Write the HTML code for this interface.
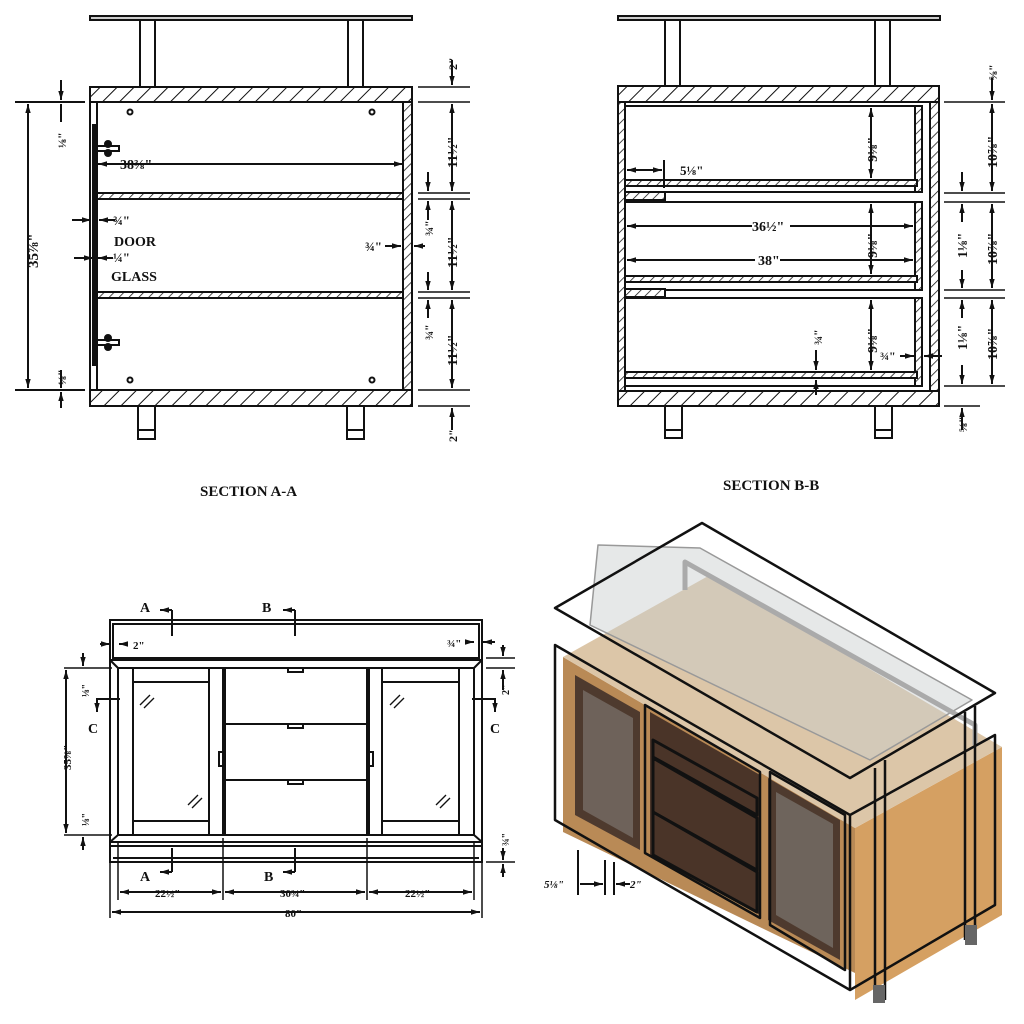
<!DOCTYPE html>
<html><head><meta charset="utf-8"><style>
html,body{margin:0;padding:0;background:#fff;}
svg{display:block}
text{font-family:"Liberation Serif",serif;font-weight:bold;fill:#111}
</style></head><body>
<svg width="1024" height="1024" viewBox="0 0 1024 1024" xmlns="http://www.w3.org/2000/svg">
<defs>
<pattern id="h" width="12" height="12" patternUnits="userSpaceOnUse" patternTransform="rotate(45)"><rect width="12" height="12" fill="#fff"/><line x1="0" y1="0" x2="0" y2="12" stroke="#111" stroke-width="2"/></pattern>
<pattern id="hs" width="7" height="7" patternUnits="userSpaceOnUse" patternTransform="rotate(45)"><rect width="7" height="7" fill="#fff"/><line x1="0" y1="0" x2="0" y2="7" stroke="#111" stroke-width="1.5"/></pattern>
<marker id="a" viewBox="0 0 10 10" refX="10" refY="5" markerUnits="userSpaceOnUse" markerWidth="9" markerHeight="9" orient="auto-start-reverse"><path d="M0,2 L10,5 L0,8 z" fill="#111"/></marker>
</defs>
<g stroke="#111" stroke-width="2" fill="none">
<!-- ===== SECTION A-A ===== -->
<rect x="90" y="16" width="322" height="4" fill="#ccc"/>
<rect x="140" y="20" width="15" height="67" fill="#fff"/>
<rect x="348" y="20" width="15" height="67" fill="#fff"/>
<rect x="90" y="87" width="322" height="15" fill="url(#h)"/>
<rect x="90" y="390" width="322" height="16" fill="url(#h)"/>
<rect x="90" y="102" width="7" height="288" fill="#fff"/>
<rect x="93" y="125" width="4" height="240" fill="#111"/>
<rect x="403" y="102" width="9" height="288" fill="url(#hs)"/>
<rect x="97" y="193" width="306" height="6" fill="url(#hs)"/>
<rect x="97" y="292" width="306" height="6" fill="url(#hs)"/>
<rect x="138" y="406" width="17" height="33" fill="#fff"/>
<rect x="347" y="406" width="17" height="33" fill="#fff"/>
<line x1="138" y1="430" x2="155" y2="430"/><line x1="347" y1="430" x2="364" y2="430"/>
<circle cx="130" cy="112" r="2.5"/><circle cx="372" cy="112" r="2.5"/><circle cx="130" cy="380" r="2.5"/><circle cx="372" cy="380" r="2.5"/>
<rect x="97" y="146" width="22" height="5"/><rect x="97" y="340" width="22" height="5"/>
<circle cx="108" cy="144" r="3" fill="#111"/><circle cx="108" cy="153" r="3" fill="#111"/>
<circle cx="108" cy="338" r="3" fill="#111"/><circle cx="108" cy="347" r="3" fill="#111"/>
<line x1="98" y1="164" x2="403" y2="164" marker-start="url(#a)" marker-end="url(#a)"/>
<line x1="15" y1="102" x2="85" y2="102"/><line x1="15" y1="390" x2="85" y2="390"/>
<line x1="28" y1="104" x2="28" y2="388" marker-start="url(#a)" marker-end="url(#a)"/>
<line x1="61" y1="80" x2="61" y2="100" marker-end="url(#a)"/><line x1="61" y1="104" x2="61" y2="122"/>
<line x1="61" y1="370" x2="61" y2="388" /><line x1="61" y1="408" x2="61" y2="392" marker-end="url(#a)"/>
<line x1="72" y1="220" x2="91" y2="220" marker-end="url(#a)"/><line x1="115" y1="220" x2="99" y2="220" marker-end="url(#a)"/>
<line x1="74" y1="258" x2="93" y2="258" marker-end="url(#a)"/><line x1="113" y1="258" x2="98" y2="258" marker-end="url(#a)"/>
<line x1="385" y1="246" x2="401" y2="246" marker-end="url(#a)"/><line x1="425" y1="246" x2="414" y2="246" marker-end="url(#a)"/>
<g stroke-width="1.5">
<line x1="418" y1="87" x2="470" y2="87"/><line x1="418" y1="102" x2="470" y2="102"/>
<line x1="418" y1="193" x2="470" y2="193"/><line x1="418" y1="199" x2="470" y2="199"/>
<line x1="418" y1="292" x2="470" y2="292"/><line x1="418" y1="298" x2="470" y2="298"/>
<line x1="418" y1="390" x2="470" y2="390"/><line x1="418" y1="406" x2="470" y2="406"/>
</g>
<line x1="452" y1="60" x2="452" y2="85" marker-end="url(#a)"/>
<line x1="452" y1="104" x2="452" y2="191" marker-start="url(#a)" marker-end="url(#a)"/>
<line x1="452" y1="201" x2="452" y2="290" marker-start="url(#a)" marker-end="url(#a)"/>
<line x1="452" y1="300" x2="452" y2="388" marker-start="url(#a)" marker-end="url(#a)"/>
<line x1="452" y1="430" x2="452" y2="408" marker-end="url(#a)"/>
<line x1="428" y1="172" x2="428" y2="191" marker-end="url(#a)"/><line x1="428" y1="220" x2="428" y2="201" marker-end="url(#a)"/>
<line x1="428" y1="272" x2="428" y2="290" marker-end="url(#a)"/><line x1="428" y1="318" x2="428" y2="300" marker-end="url(#a)"/>

<!-- ===== SECTION B-B ===== -->
<rect x="618" y="16" width="322" height="4" fill="#ccc"/>
<rect x="665" y="20" width="15" height="67" fill="#fff"/>
<rect x="875" y="20" width="15" height="67" fill="#fff"/>
<rect x="618" y="86" width="321" height="16" fill="url(#h)"/>
<rect x="618" y="391" width="321" height="15" fill="url(#h)"/>
<rect x="618" y="102" width="7" height="289" fill="url(#hs)"/>
<rect x="930" y="102" width="9" height="289" fill="url(#hs)"/>
<rect x="625" y="106" width="290" height="86"/><rect x="915" y="106" width="7" height="86" fill="url(#hs)"/>
<rect x="625" y="202" width="290" height="88"/><rect x="915" y="202" width="7" height="88" fill="url(#hs)"/>
<rect x="625" y="298" width="290" height="88"/><rect x="915" y="298" width="7" height="88" fill="url(#hs)"/>
<rect x="625" y="180" width="292" height="6" fill="url(#hs)"/>
<rect x="625" y="276" width="292" height="6" fill="url(#hs)"/>
<rect x="625" y="372" width="292" height="6" fill="url(#hs)"/>
<rect x="625" y="192" width="40" height="8" fill="url(#hs)"/><rect x="625" y="289" width="40" height="8" fill="url(#hs)"/>
<rect x="665" y="406" width="17" height="32" fill="#fff"/><rect x="875" y="406" width="17" height="32" fill="#fff"/>
<line x1="665" y1="430" x2="682" y2="430"/><line x1="875" y1="430" x2="892" y2="430"/>
<line x1="627" y1="170" x2="662" y2="170" marker-start="url(#a)" marker-end="url(#a)"/><line x1="664" y1="160" x2="664" y2="188"/>
<line x1="627" y1="226" x2="752" y2="226" marker-start="url(#a)"/><line x1="790" y1="226" x2="913" y2="226" marker-end="url(#a)"/>
<line x1="627" y1="260" x2="755" y2="260" marker-start="url(#a)"/><line x1="780" y1="260" x2="913" y2="260" marker-end="url(#a)"/>
<line x1="871" y1="108" x2="871" y2="178" marker-start="url(#a)" marker-end="url(#a)"/>
<line x1="871" y1="204" x2="871" y2="274" marker-start="url(#a)" marker-end="url(#a)"/>
<line x1="871" y1="300" x2="871" y2="370" marker-start="url(#a)" marker-end="url(#a)"/>
<line x1="816" y1="350" x2="816" y2="370" marker-end="url(#a)"/><line x1="816" y1="395" x2="816" y2="380" marker-end="url(#a)"/>
<line x1="900" y1="356" x2="914" y2="356" marker-end="url(#a)"/><line x1="942" y1="356" x2="924" y2="356" marker-end="url(#a)"/>
<g stroke-width="1.5">
<line x1="944" y1="102" x2="1005" y2="102"/><line x1="944" y1="193" x2="1005" y2="193"/><line x1="944" y1="202" x2="1005" y2="202"/>
<line x1="944" y1="290" x2="1005" y2="290"/><line x1="944" y1="298" x2="1005" y2="298"/><line x1="944" y1="386" x2="1005" y2="386"/>
<line x1="944" y1="406" x2="980" y2="406"/>
</g>
<line x1="992" y1="78" x2="992" y2="100" marker-end="url(#a)"/>
<line x1="992" y1="104" x2="992" y2="191" marker-start="url(#a)" marker-end="url(#a)"/>
<line x1="992" y1="204" x2="992" y2="288" marker-start="url(#a)" marker-end="url(#a)"/>
<line x1="992" y1="300" x2="992" y2="384" marker-start="url(#a)" marker-end="url(#a)"/>
<line x1="962" y1="172" x2="962" y2="191" marker-end="url(#a)"/><line x1="962" y1="222" x2="962" y2="204" marker-end="url(#a)"/>
<line x1="962" y1="270" x2="962" y2="288" marker-end="url(#a)"/><line x1="962" y1="318" x2="962" y2="300" marker-end="url(#a)"/>
<line x1="962" y1="365" x2="962" y2="384" marker-end="url(#a)"/><line x1="962" y1="430" x2="962" y2="408" marker-end="url(#a)"/>

<!-- ===== FRONT ELEVATION ===== -->
<rect x="110" y="620" width="372" height="242"/>
<rect x="113" y="624" width="366" height="34"/>
<line x1="110" y1="660" x2="482" y2="660"/>
<rect x="118" y="668" width="356" height="167"/>
<line x1="110" y1="660" x2="118" y2="668"/><line x1="482" y1="660" x2="474" y2="668"/>
<line x1="110" y1="842" x2="118" y2="835"/><line x1="482" y1="842" x2="474" y2="835"/>
<line x1="110" y1="842" x2="482" y2="842"/><line x1="110" y1="846" x2="482" y2="846"/><line x1="113" y1="858" x2="479" y2="858"/>
<line x1="225" y1="668" x2="225" y2="835"/><line x1="223" y1="668" x2="223" y2="835"/>
<line x1="367" y1="668" x2="367" y2="835"/><line x1="369" y1="668" x2="369" y2="835"/>
<rect x="133" y="668" width="76" height="167"/><line x1="133" y1="682" x2="209" y2="682"/><line x1="133" y1="821" x2="209" y2="821"/>
<rect x="382" y="668" width="77" height="167"/><line x1="382" y1="682" x2="459" y2="682"/><line x1="382" y1="821" x2="459" y2="821"/>
<line x1="225" y1="724" x2="367" y2="724"/><line x1="225" y1="780" x2="367" y2="780"/>
<rect x="288" y="668" width="15" height="4"/><rect x="288" y="724" width="15" height="4"/><rect x="288" y="780" width="15" height="4"/>
<rect x="219" y="752" width="4" height="14"/><rect x="369" y="752" width="4" height="14"/>
<g stroke-width="1.3"><line x1="140" y1="705" x2="150" y2="695"/><line x1="144" y1="708" x2="154" y2="698"/>
<line x1="188" y1="805" x2="198" y2="795"/><line x1="192" y1="808" x2="202" y2="798"/>
<line x1="390" y1="705" x2="400" y2="695"/><line x1="394" y1="708" x2="404" y2="698"/>
<line x1="436" y1="805" x2="446" y2="795"/><line x1="440" y1="808" x2="450" y2="798"/></g>
<line x1="172" y1="610" x2="172" y2="636"/><polyline points="172,610 160,610" marker-end="url(#a)"/>
<line x1="295" y1="610" x2="295" y2="636"/><polyline points="295,610 283,610" marker-end="url(#a)"/>
<line x1="172" y1="848" x2="172" y2="872"/><polyline points="172,872 160,872" marker-end="url(#a)"/>
<line x1="295" y1="848" x2="295" y2="872"/><polyline points="295,872 283,872" marker-end="url(#a)"/>
<polyline points="120,699 97,699 97,712" marker-end="url(#a)"/>
<polyline points="472,699 495,699 495,712" marker-end="url(#a)"/>
<g stroke-width="1.5">
<line x1="110" y1="862" x2="110" y2="918"/><line x1="482" y1="862" x2="482" y2="918"/>
<line x1="118" y1="842" x2="118" y2="900"/><line x1="223" y1="838" x2="223" y2="900"/>
<line x1="367" y1="838" x2="367" y2="900"/><line x1="474" y1="842" x2="474" y2="900"/>
</g>
<line x1="120" y1="892" x2="221" y2="892" marker-start="url(#a)" marker-end="url(#a)"/>
<line x1="225" y1="892" x2="365" y2="892" marker-start="url(#a)" marker-end="url(#a)"/>
<line x1="369" y1="892" x2="472" y2="892" marker-start="url(#a)" marker-end="url(#a)"/>
<line x1="112" y1="912" x2="480" y2="912" marker-start="url(#a)" marker-end="url(#a)"/>
<line x1="64" y1="668" x2="112" y2="668" stroke-width="1.5"/><line x1="64" y1="835" x2="112" y2="835" stroke-width="1.5"/>
<line x1="66" y1="670" x2="66" y2="833" marker-start="url(#a)" marker-end="url(#a)"/>
<line x1="83" y1="653" x2="83" y2="666" marker-end="url(#a)"/><line x1="83" y1="850" x2="83" y2="837" marker-end="url(#a)"/>
<line x1="100" y1="644" x2="110" y2="644" marker-end="url(#a)"/><line x1="128" y1="644" x2="119" y2="644" marker-end="url(#a)"/>
<line x1="466" y1="642" x2="474" y2="642" marker-end="url(#a)"/><line x1="495" y1="642" x2="483" y2="642" marker-end="url(#a)"/>
<line x1="486" y1="658" x2="515" y2="658" stroke-width="1.5"/><line x1="486" y1="668" x2="515" y2="668" stroke-width="1.5"/>
<line x1="486" y1="862" x2="515" y2="862" stroke-width="1.5"/>
<line x1="503" y1="645" x2="503" y2="656" marker-end="url(#a)"/><line x1="503" y1="690" x2="503" y2="670" marker-end="url(#a)"/>
<line x1="503" y1="848" x2="503" y2="860" marker-end="url(#a)"/><line x1="503" y1="877" x2="503" y2="864" marker-end="url(#a)"/>
</g>

<!-- ===== ISOMETRIC ===== -->
<g stroke-linejoin="round">
<polygon points="563,657 855,828 855,973 563,832" fill="#b98a56"/>
<polygon points="855,828 1002,747 1002,915 855,1000" fill="#d5a062"/>
<polygon points="563,657 710,575 1002,747 855,828" fill="#dcc6a8"/>
<polygon points="575,675 640,712 640,850 575,815" fill="#4e3a2e"/>
<polygon points="583,690 633,718 633,838 583,810" fill="#6e625a"/>
<polygon points="650,712 760,775 760,915 650,855" fill="#4a3428"/>
<polygon points="768,778 840,820 840,960 768,920" fill="#4e3a2e"/>
<polygon points="776,792 833,824 833,948 776,915" fill="#6e645c"/>
<g stroke="#111" stroke-width="3" fill="none">
<polygon points="653,740 757,798 757,815 653,757"/>
<polygon points="653,758 757,818 757,870 653,812"/>
<polygon points="653,812 757,872 757,912 653,855"/>
</g>
<polygon points="598,545 700,548 972,700 870,760 590,625" fill="rgba(200,205,205,0.45)" stroke="#999" stroke-width="1.5"/>
<polyline points="685,590 685,562 975,725 975,745" fill="none" stroke="#aaa" stroke-width="5"/>
<g stroke="#111" stroke-width="2.5" fill="none">
<polygon points="702,523 995,693 850,778 555,608"/>
<polygon points="555,645 850,815 850,990 555,820"/>
<polyline points="850,815 995,735 995,905 850,990"/>
<line x1="875" y1="768" x2="875" y2="1000"/><line x1="885" y1="760" x2="885" y2="1000"/>
<line x1="965" y1="712" x2="965" y2="940"/><line x1="975" y1="706" x2="975" y2="945"/>
<polygon points="645,705 760,772 760,918 645,853"/>
<polygon points="770,772 845,815 845,970 770,925"/>
</g>
<rect x="873" y="985" width="12" height="18" fill="#666"/>
<rect x="965" y="925" width="12" height="20" fill="#666"/>
<g stroke="#111" stroke-width="2" fill="none">
<line x1="578" y1="850" x2="578" y2="895"/><line x1="605" y1="860" x2="605" y2="895"/><line x1="614" y1="862" x2="614" y2="895"/>
<line x1="580" y1="884" x2="603" y2="884" marker-end="url(#a)"/><line x1="630" y1="884" x2="616" y2="884" marker-end="url(#a)"/>
</g>
<text x="544" y="888" font-size="11" font-style="italic">5⅛"</text>
<text x="630" y="888" font-size="11" font-style="italic">2"</text>
</g>

<!-- ===== TEXT ===== -->
<g font-size="14">
<text x="120" y="169" font-size="14">38⅜"</text>
<text x="114" y="246">DOOR</text>
<text x="111" y="281">GLASS</text>
<text x="113" y="225" font-size="13">¾"</text>
<text x="113" y="262" font-size="13">¼"</text>
<text x="365" y="251" font-size="13">¾"</text>
<text transform="translate(38,268) rotate(-90)" font-size="15">35⅞"</text>
<text transform="translate(66,148) rotate(-90)" font-size="12">⅛"</text>
<text transform="translate(66,385) rotate(-90)" font-size="12">⅛"</text>
<text transform="translate(457,70) rotate(-90)" font-size="12">2"</text>
<text transform="translate(457,168) rotate(-90)">11½"</text>
<text transform="translate(457,268) rotate(-90)">11½"</text>
<text transform="translate(457,366) rotate(-90)">11½"</text>
<text transform="translate(457,442) rotate(-90)" font-size="12">2"</text>
<text transform="translate(433,236) rotate(-90)" font-size="12">¾"</text>
<text transform="translate(433,340) rotate(-90)" font-size="12">¾"</text>
<text x="200" y="496" font-size="15">SECTION A-A</text>
<text x="723" y="490" font-size="15">SECTION B-B</text>
<text x="680" y="175" font-size="13">5⅛"</text>
<text x="752" y="231">36½"</text>
<text x="758" y="265">38"</text>
<text transform="translate(877,162) rotate(-90)">9⅛"</text>
<text transform="translate(877,258) rotate(-90)">9⅛"</text>
<text transform="translate(877,353) rotate(-90)">9⅛"</text>
<text transform="translate(822,345) rotate(-90)" font-size="12">¾"</text>
<text x="880" y="360" font-size="12">¾"</text>
<text transform="translate(997,80) rotate(-90)" font-size="12">⅝"</text>
<text transform="translate(997,168) rotate(-90)">10⅞"</text>
<text transform="translate(997,265) rotate(-90)">10⅞"</text>
<text transform="translate(997,360) rotate(-90)">10⅞"</text>
<text transform="translate(967,258) rotate(-90)">1⅛"</text>
<text transform="translate(967,350) rotate(-90)">1⅛"</text>
<text transform="translate(967,432) rotate(-90)" font-size="12">⅝"</text>
<text x="140" y="612" font-size="14">A</text><text x="262" y="612" font-size="14">B</text>
<text x="140" y="881" font-size="14">A</text><text x="264" y="881" font-size="14">B</text>
<text x="88" y="733" font-size="14">C</text><text x="490" y="733" font-size="14">C</text>
<text x="133" y="649" font-size="11">2"</text>
<text x="447" y="647" font-size="11">¾"</text>
<text x="155" y="897" font-size="11">22½"</text>
<text x="280" y="897" font-size="11">30¾"</text>
<text x="405" y="897" font-size="11">22½"</text>
<text x="285" y="917" font-size="11">80"</text>
<text transform="translate(71,770) rotate(-90)" font-size="11">35⅞"</text>
<text transform="translate(89,697) rotate(-90)" font-size="10">⅛"</text>
<text transform="translate(89,826) rotate(-90)" font-size="10">⅛"</text>
<text transform="translate(509,695) rotate(-90)" font-size="10">2"</text>
<text transform="translate(509,846) rotate(-90)" font-size="10">¾"</text>
</g>
</svg>
</body></html>
